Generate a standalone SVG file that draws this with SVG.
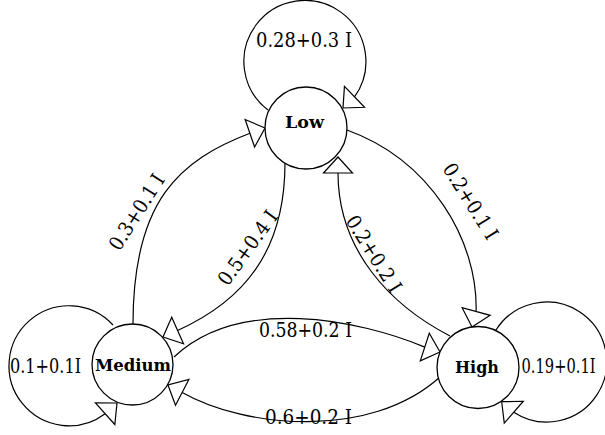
<svg xmlns="http://www.w3.org/2000/svg" xmlns:xlink="http://www.w3.org/1999/xlink" width="605" height="435" viewBox="0 0 605 435">
  <style>
    .edge { fill: none; stroke: #000; stroke-width: 1.2; }
    .ah { fill: #fff; stroke: #000; stroke-width: 1.2; stroke-linejoin: miter; }
    .node circle { fill: #fff; stroke: #000; stroke-width: 1.3; }
    .node text { font-family: "DejaVu Serif", "Liberation Serif", serif; font-weight: bold; font-size: 17px; text-anchor: middle; }
    .lbl { font-family: "DejaVu Serif", "Liberation Serif", serif; font-size: 20px; text-anchor: middle; fill: #000; }
  </style>
  <defs>
    <!-- open triangular arrowhead, tip at the origin, pointing along +x -->
    <path id="ah" class="ah" d="M0,0 L-16,-14.5 L-16,14.5 Z"/>
  </defs>

  <g id="connectors">
    <!-- self loops -->
    <path class="edge" d="M268,110 A61,61 0 1 1 354.5,96.9"/>
    <path class="edge" d="M113,325 A60,60 0 1 0 105.1,413.7"/>
    <path class="edge" d="M496,330 A60,60 0 1 1 513.8,412.2"/>
    <!-- Medium -> Low -->
    <path class="edge" d="M133,324 C133,200 180,160 249.9,133.2"/>
    <!-- Low -> Medium -->
    <path class="edge" d="M285,163 C285,250 245,300 177.6,330.5"/>
    <!-- Low -> High -->
    <path class="edge" d="M347,130 C430,160 478,240 476.1,311.5"/>
    <!-- High -> Low -->
    <path class="edge" d="M450,336 C390,305 338,250 338,173"/>
    <!-- Medium -> High -->
    <path class="edge" d="M174,357 C240,295 360,320 424.8,347.1"/>
    <!-- High -> Medium -->
    <path class="edge" d="M440,377 C370,440 245,428 182.2,392.4"/>

    <!-- arrowheads -->
    <use xlink:href="#ah" transform="translate(343,108) rotate(136)"/>
    <use xlink:href="#ah" transform="translate(117,403) rotate(-42)"/>
    <use xlink:href="#ah" transform="translate(501.7,401.7) rotate(221)"/>
    <use xlink:href="#ah" transform="translate(265,128) rotate(-19)"/>
    <use xlink:href="#ah" transform="translate(163,337) rotate(156)"/>
    <use xlink:href="#ah" transform="translate(472,327) rotate(105)"/>
    <use xlink:href="#ah" transform="translate(338,157) rotate(-90)"/>
    <use xlink:href="#ah" transform="translate(440,352) rotate(18)"/>
    <use xlink:href="#ah" transform="translate(168,385) rotate(207.5)"/>

    <!-- transition labels -->
    <text class="lbl" x="304" y="47" textLength="96" lengthAdjust="spacingAndGlyphs">0.28+0.3 I</text>
    <text class="lbl" x="45.5" y="373" textLength="71" lengthAdjust="spacingAndGlyphs">0.1+0.1I</text>
    <text class="lbl" x="558.5" y="373" textLength="74" lengthAdjust="spacingAndGlyphs">0.19+0.1I</text>
    <text class="lbl" x="305.5" y="337" textLength="93" lengthAdjust="spacingAndGlyphs">0.58+0.2 I</text>
    <text class="lbl" x="308.5" y="424" textLength="87" lengthAdjust="spacingAndGlyphs">0.6+0.2 I</text>
    <text class="lbl" transform="translate(142.6,215.7) rotate(-57.5)" textLength="86" lengthAdjust="spacingAndGlyphs">0.3+0.1 I</text>
    <text class="lbl" transform="translate(253.2,251.9) rotate(-54)" textLength="87" lengthAdjust="spacingAndGlyphs">0.5+0.4 I</text>
    <text class="lbl" transform="translate(464.7,204.9) rotate(58)" textLength="86" lengthAdjust="spacingAndGlyphs">0.2+0.1 I</text>
    <text class="lbl" transform="translate(368,257.6) rotate(58)" textLength="87" lengthAdjust="spacingAndGlyphs">0.2+0.2 I</text>
  </g>

  <g id="node-low" class="node">
    <circle cx="306" cy="128" r="41"/>
    <text x="304.5" y="128" textLength="39" lengthAdjust="spacingAndGlyphs">Low</text>
  </g>
  <g id="node-medium" class="node">
    <circle cx="132.5" cy="364.5" r="40.5"/>
    <text x="133" y="371" textLength="76" lengthAdjust="spacingAndGlyphs">Medium</text>
  </g>
  <g id="node-high" class="node">
    <circle cx="478" cy="367.5" r="41"/>
    <text x="477" y="373" textLength="44" lengthAdjust="spacingAndGlyphs">High</text>
  </g>
</svg>
